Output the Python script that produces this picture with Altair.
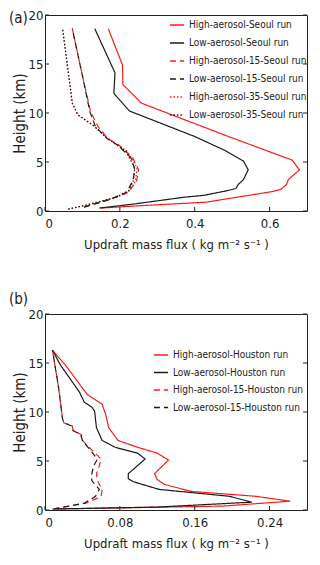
import altair as alt
import pandas as pd

FONT = "DejaVu Sans Condensed, Liberation Sans Narrow, sans-serif"

# ---------------- Panel (a): Seoul ----------------
a_names = ["High-aerosol-Seoul run", "Low-aerosol-Seoul run",
           "High-aerosol-15-Seoul run", "Low-aerosol-15-Seoul run",
           "High-aerosol-35-Seoul run", "Low-aerosol-35-Seoul run"]

hs_h = [0.3, 0.5, 0.9, 1.6, 2.0, 2.2, 2.7, 3.2, 4.2, 5.2, 7.6, 11.0, 12.9, 14.9, 18.6]
hs_v = [0.15, 0.235, 0.43, 0.545, 0.61, 0.63, 0.645, 0.65, 0.68, 0.66, 0.49, 0.258, 0.208, 0.207, 0.169]

ls_h = [0.3, 0.7, 1.4, 1.6, 2.1, 2.3, 2.7, 3.2, 4.2, 5.1, 6.2, 7.6, 10.2, 12.0, 14.1, 18.6]
ls_v = [0.145, 0.235, 0.37, 0.425, 0.49, 0.51, 0.516, 0.53, 0.543, 0.53, 0.48, 0.40, 0.226, 0.184, 0.187, 0.133]

h15_h = [0.4, 0.8, 1.2, 1.9, 3.1, 4.2, 5.4, 6.7, 7.4, 8.6, 10.1, 13.8, 18.6]
h15_v = [0.104, 0.14, 0.176, 0.222, 0.245, 0.25, 0.235, 0.198, 0.168, 0.142, 0.122, 0.10, 0.073]
l15_v = [0.104, 0.14, 0.174, 0.218, 0.235, 0.24, 0.23, 0.195, 0.166, 0.135, 0.12, 0.10, 0.073]

d35_h = [0.2, 0.6, 1.4, 2.1, 3.1, 4.4, 6.1, 7.4, 8.7, 9.8, 11.0, 18.6]
h35_v = [0.062, 0.11, 0.192, 0.228, 0.242, 0.246, 0.22, 0.168, 0.13, 0.088, 0.073, 0.047]
l35_v = [0.062, 0.11, 0.19, 0.224, 0.236, 0.24, 0.216, 0.166, 0.13, 0.088, 0.073, 0.047]

# ---------------- Panel (b): Houston ----------------
b_names = ["High-aerosol-Houston run", "Low-aerosol-Houston run",
           "High-aerosol-15-Houston run", "Low-aerosol-15-Houston run"]

hh_h = [0.1, 0.4, 0.9, 1.4, 1.9, 2.6, 3.1, 3.7, 5.1, 5.8, 6.4, 7.1, 8.4, 9.7, 10.8, 11.8, 14.8, 16.3]
hh_v = [0.011, 0.19, 0.262, 0.225, 0.156, 0.128, 0.12, 0.117, 0.132, 0.12, 0.099, 0.078, 0.068, 0.065, 0.061, 0.045, 0.0217, 0.008]

lh_h = [0.1, 0.3, 0.8, 1.4, 2.1, 2.9, 3.2, 3.7, 5.2, 5.8, 6.4, 7.1, 8.4, 10.1, 10.5, 11.0, 12.0, 14.8, 16.3]
lh_v = [0.008, 0.12, 0.221, 0.197, 0.122, 0.094, 0.089, 0.089, 0.107, 0.099, 0.075, 0.061, 0.055, 0.053, 0.05, 0.042, 0.037, 0.0165, 0.008]

d15_h = [0.1, 0.7, 1.4, 2.1, 3.0, 3.7, 4.5, 5.2, 6.4, 7.1, 7.7, 8.1, 8.6, 8.9, 9.4, 12.5, 16.3]
hh15_v = [0.009, 0.044, 0.06, 0.061, 0.056, 0.055, 0.058, 0.06, 0.047, 0.04, 0.039, 0.03, 0.029, 0.02, 0.0186, 0.0145, 0.008]
lh15_v = [0.009, 0.042, 0.054, 0.058, 0.05, 0.05, 0.052, 0.056, 0.046, 0.04, 0.038, 0.03, 0.028, 0.02, 0.0186, 0.0145, 0.008]

a_xticks = [0, 0.2, 0.4, 0.6]
b_xticks = [0, 0.08, 0.16, 0.24]
yticks = [0, 5, 10, 15, 20]

RED = "#ff1a1a"
BLACK = "#1a1a1a"
INK = "#222222"


def frame(series):
    rows = []
    for name, hs, vs in series:
        for i, (h, v) in enumerate(zip(hs, vs)):
            rows.append({"series": name, "h": h, "v": v, "i": i})
    return pd.DataFrame(rows)


df_a = frame([(a_names[0], hs_h, hs_v), (a_names[1], ls_h, ls_v),
              (a_names[2], h15_h, h15_v), (a_names[3], h15_h, l15_v),
              (a_names[4], d35_h, h35_v), (a_names[5], d35_h, l35_v)])
df_b = frame([(b_names[0], hh_h, hh_v), (b_names[1], lh_h, lh_v),
              (b_names[2], d15_h, hh15_v), (b_names[3], d15_h, lh15_v)])

SOLID = [1, 0]
DASH = [6, 4]
DOT = [1.5, 2]

W, H = 262, 196
TICK = 4
XTITLE = "Updraft mass flux ( kg m\u207b\u00b2 s\u207b\u00b9 )"
YTITLE = "Height (km)"


def panel(df, names, colors, dashes, xdom, xticks, fmt, label, lx, ly, rowpad):
    xscale = alt.Scale(domain=xdom, nice=False, zero=False)
    yscale = alt.Scale(domain=[0, 20], nice=False)
    xaxis = alt.Axis(values=xticks, ticks=False, domain=False, grid=False,
                     labelExpr=f"datum.value == 0 ? '0' : format(datum.value, '{fmt}')",
                     labelFont=FONT, labelFontSize=13, labelColor=INK,
                     labelPadding=6, titleFont=FONT, titleFontSize=13,
                     titleFontWeight="normal", titleColor=INK, titlePadding=8)
    yaxis = alt.Axis(values=yticks, ticks=False, domain=False, grid=False,
                     labelFont=FONT, labelFontSize=13, labelColor=INK,
                     labelPadding=2, titleFont=FONT, titleFontSize=15,
                     titleFontWeight="normal", titleColor=INK, titlePadding=1)
    legend = alt.Legend(orient="none", legendX=lx, legendY=ly, title=None,
                        symbolType="stroke", symbolSize=200, symbolStrokeWidth=1.3,
                        labelFont=FONT, labelFontSize=10, labelColor=INK,
                        rowPadding=rowpad, labelOffset=4, labelLimit=200)
    lines = alt.Chart(df).mark_line(strokeWidth=1.2).encode(
        x=alt.X("v:Q", scale=xscale, title=XTITLE, axis=xaxis),
        y=alt.Y("h:Q", scale=yscale, title=YTITLE, axis=yaxis),
        color=alt.Color("series:N", scale=alt.Scale(domain=names, range=colors), legend=legend),
        strokeDash=alt.StrokeDash("series:N", scale=alt.Scale(domain=names, range=dashes), legend=legend),
        order=alt.Order("i:Q"),
        detail="series:N",
    )
    xt = pd.DataFrame({"v": xticks})
    yt = pd.DataFrame({"h": yticks})
    xb = alt.Chart(xt).mark_rule(color=INK, strokeWidth=1).encode(
        x=alt.X("v:Q", scale=xscale, title=XTITLE, axis=xaxis), y=alt.value(H), y2=alt.value(H - TICK))
    yl = alt.Chart(yt).mark_rule(color=INK, strokeWidth=1).encode(
        y=alt.Y("h:Q", scale=yscale, title=YTITLE, axis=yaxis), x=alt.value(0), x2=alt.value(TICK))
    yr = alt.Chart(yt).mark_rule(color=INK, strokeWidth=1).encode(
        y=alt.Y("h:Q", scale=yscale, title=YTITLE, axis=yaxis), x=alt.value(W), x2=alt.value(W - TICK))
    lab = alt.Chart(pd.DataFrame({"s": [label[0]]})).mark_text(
        font=FONT, fontSize=15, color=INK, align="left", baseline="middle").encode(
        text="s:N", x=alt.value(label[1]), y=alt.value(label[2]))
    return alt.layer(lines, xb, yl, yr, lab).properties(width=W, height=H)


pa = panel(df_a, a_names, [RED, BLACK, RED, BLACK, RED, BLACK],
           [SOLID, SOLID, DASH, DASH, DOT, DOT], [0, 0.7], a_xticks, ".1f",
           ("(a)", -36, 3), W - 138, 2, 5)
pb = panel(df_b, b_names, [RED, BLACK, RED, BLACK],
           [SOLID, SOLID, DASH, DASH], [0, 0.28], b_xticks, ".2f",
           ("(b)", -36, -15), W - 154, 33, 4.5)

chart = alt.vconcat(pa, pb, spacing=39).resolve_scale(
    color="independent", strokeDash="independent", x="independent"
).configure_view(stroke=INK, strokeWidth=1).properties(
    padding={"top": 0, "left": 0, "right": 0, "bottom": 0}, background="white")

chart.save("out.html", embed_options={"renderer": "svg", "actions": False})
